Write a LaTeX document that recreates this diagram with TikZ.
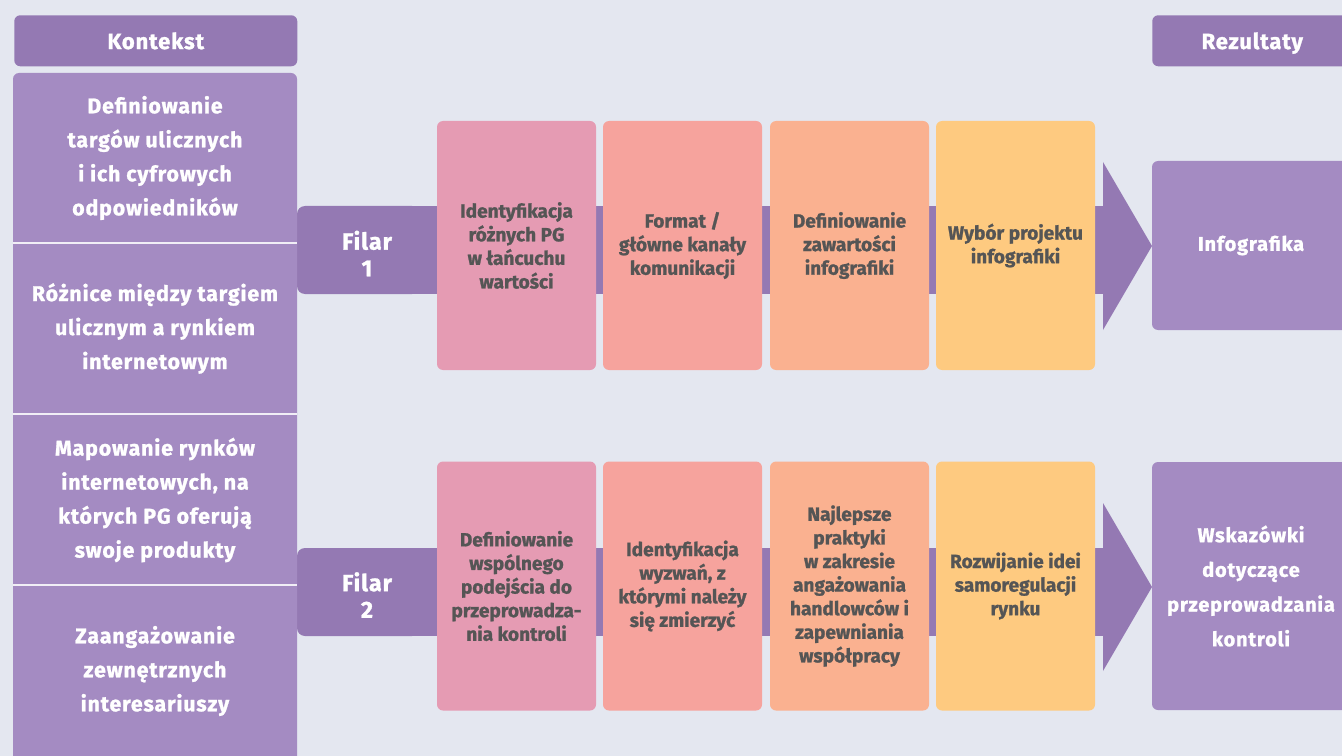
\documentclass[tikz,border=0pt]{standalone}
\usepackage{fontspec}
\setmainfont{Fira Sans}[BoldFeatures={FakeBold=1.2}]
\newfontfamily\wfont{Fira Sans}[LetterSpace=4,BoldFeatures={FakeBold=1.2}]
\definecolor{bg}{HTML}{E4E7F0}
\definecolor{hdr}{HTML}{9479B3}
\definecolor{lav}{HTML}{A48BC2}
\definecolor{band}{HTML}{9479B3}
\definecolor{cA}{HTML}{E59BB3}
\definecolor{cB}{HTML}{F6A39D}
\definecolor{cC}{HTML}{FAB190}
\definecolor{cD}{HTML}{FECA80}
\definecolor{tx}{HTML}{555555}
\begin{document}
\begin{tikzpicture}[x=0.75pt,y=-0.75pt,
  dim/.style 2 args={minimum width={#1*0.75pt}, minimum height={#2*0.75pt}},
  hdrbox/.style={fill=hdr, rounded corners=4.5pt, text=white, inner sep=0pt, anchor=north west,
     text height=1.24em, text depth=0em,
     font=\wfont\bfseries\fontsize{16.5}{18}\selectfont},
  ctx/.style={inner sep=0pt, text=white, align=center, dim={284}{170},
     font=\wfont\bfseries\fontsize{16}{25.5}\selectfont},
  res/.style={fill=lav, rounded corners=4.5pt, inner sep=0pt, text=white, align=center,
     font=\wfont\bfseries\fontsize{15}{26}\selectfont},
  stepbox/.style={rounded corners=4.5pt, inner sep=0pt, text=tx, align=center, dim={159}{249},
     font=\bfseries\fontsize{14.3}{17.7}\selectfont},
  filar/.style={inner sep=0pt, text=white, align=center,
     font=\wfont\bfseries\fontsize{17.5}{20}\selectfont},
  sep/.style={draw=white!85!lav, line width=1.5pt},
  bandfill/.style={fill=band}
]
\clip (0,0) rectangle (1342,756);
\fill[bg] (0,0) rectangle (1342,756);

% headers
\node[hdrbox, dim={283}{51}] (kontekst) at (14,15) {Kontekst};
\node[hdrbox, dim={200}{51}] (rezultaty) at (1152,15) {Rezultaty};

% bands with arrow heads (drawn first, behind the boxes)
\fill[bandfill, rounded corners=6pt] (297,206) rectangle (420,294);
\fill[bandfill] (400,206) rectangle (1104,294);
\fill[bandfill] (1103,162) -- (1152,246) -- (1103,330) -- cycle;
\fill[bandfill, rounded corners=6pt] (297,548) rectangle (420,636);
\fill[bandfill] (400,548) rectangle (1104,636);
\fill[bandfill] (1103,503) -- (1152,587) -- (1103,671) -- cycle;

% context column
\fill[lav, rounded corners=4.5pt] (13,73) rectangle (297,800);
\node[ctx] (ctx1) at (155,158) {Definiowanie\\targów ulicznych\\i ich cyfrowych\\odpowiedników};
\node[ctx] (ctx2) at (155,328.5) {Różnice między targiem\\ulicznym a rynkiem\\internetowym};
\node[ctx] (ctx3) at (155,500) {Mapowanie rynków\\internetowych, na\\których PG oferują\\swoje produkty};
\node[ctx] (ctx4) at (155,671) {Zaangażowanie\\zewnętrznych\\interesariuszy};
\draw[sep] (ctx1.south west) -- (ctx1.south east);
\draw[sep] (ctx2.south west) -- (ctx2.south east);
\draw[sep] (ctx3.south west) -- (ctx3.south east);

% filar labels
\node[filar] (f1) at (367,253.5) {Filar\\1};
\node[filar] (f2) at (367,595) {Filar\\2};

% pillar 1 steps
\node[stepbox, fill=cA] (a1) at (516.5,245.5) {Identyfikacja\\różnych PG\\w łańcuchu\\wartości};
\node[stepbox, fill=cB] (a2) at (682.5,245.5) {Format /\\główne kanały\\komunikacji};
\node[stepbox, fill=cC] (a3) at (849.5,245.5) {Definiowanie\\zawartości\\infografiki};
\node[stepbox, fill=cD] (a4) at (1015.5,245.5) {Wybór projektu\\infografiki};

% pillar 2 steps
\node[stepbox, fill=cA] (b1) at (516.5,586) {Definiowanie\\wspólnego\\podejścia do\\przeprowadza-\\nia kontroli};
\node[stepbox, fill=cB] (b2) at (682.5,586) {Identyfikacja\\wyzwań, z\\którymi należy\\się zmierzyć};
\node[stepbox, fill=cC] (b3) at (849.5,586) {Najlepsze\\praktyki\\w zakresie\\angażowania\\handlowców i\\zapewniania\\współpracy};
\node[stepbox, fill=cD] (b4) at (1015.5,586) {Rozwijanie idei\\samoregulacji\\rynku};

% results
\node[res, dim={198}{169}] (r1) at (1251,245.5) {Infografika};
\node[res, dim={198}{248}] (r2) at (1251,586) {Wskazówki\\dotyczące\\przeprowadzania\\kontroli};
\end{tikzpicture}
\end{document}
